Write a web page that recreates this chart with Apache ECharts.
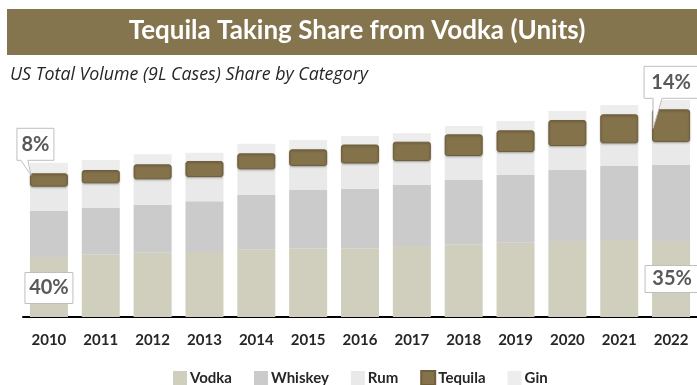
<!DOCTYPE html>
<html>
<head>
<meta charset="utf-8">
<script src="https://cdn.jsdelivr.net/npm/echarts@6/dist/echarts.min.js"></script>
<style>
html,body{margin:0;padding:0;background:#fff;}
#chart{width:697px;height:385px;}
</style>
</head>
<body>
<div id="chart"></div>
<script>
// Data (approx. million 9L cases)
const years = ['2010','2011','2012','2013','2014','2015','2016','2017','2018','2019','2020','2021','2022'];
const vodka   = [60.0, 62.7, 64.3, 65.0, 67.7, 68.7, 68.7, 71.0, 72.7, 74.3, 76.0, 77.0, 76.0];
const whiskey = [46.0, 46.6, 47.7, 50.7, 54.3, 58.3, 59.6, 61.0, 64.3, 67.7, 71.0, 74.0, 76.0];
const rum     = [24.3, 24.4, 25.7, 24.3, 25.7, 24.0, 25.2, 24.0, 24.0, 23.0, 24.0, 22.7, 23.0];
const tequila = [13.4, 13.3, 15.0, 16.0, 16.0, 16.7, 19.0, 19.3, 21.7, 21.7, 26.0, 29.0, 32.7];
const gin     = [10.6, 10.0, 10.0,  8.3,  9.6,  9.3,  8.5,  8.4,  8.3,  9.3,  9.0,  9.3,  9.3];
const seriesNames = ['Vodka','Whiskey','Rum','Tequila','Gin'];
const shareLabels = ['8%', '40%', '14%', '35%'];

const titleText = 'Tequila Taking Share from Vodka (Units)';
const subtitleText = 'US Total Volume (9L Cases) Share by Category';

const colors = {Vodka:'#D0CFBD', Whiskey:'#CBCBCB', Rum:'#E9E9E9', Tequila:'#84724B', Gin:'#EDEDED'};
const dataBySeries = {Vodka:vodka, Whiskey:whiskey, Rum:rum, Tequila:tequila, Gin:gin};

const chart = echarts.init(document.getElementById('chart'), null, {renderer:'canvas'});

const series = seriesNames.map(name => {
  const s = {
    name: name,
    type: 'bar',
    stack: 'total',
    data: dataBySeries[name],
    barWidth: 38,
    itemStyle: {color: colors[name]},
    emphasis: {disabled: true},
    animation: false
  };
  if (name === 'Tequila') {
    s.itemStyle = {color: colors[name], borderColor: '#6F5F3B', borderWidth: 1, borderRadius: 2,
                   shadowColor: 'rgba(0,0,0,0.25)', shadowBlur: 2, shadowOffsetY: 1};
    s.z = 3;
  }
  return s;
});

const option = {
  animation: false,
  title: [{
    text: titleText,
    left: 352, top: 13, textAlign: 'center',
    textStyle: {color:'#FFFFFF', fontFamily:'Lato', fontWeight:'bold', fontSize:26}
  },{
    text: subtitleText,
    left: 5, top: 61,
    textStyle: {color:'#262626', fontFamily:'Open Sans', fontStyle:'italic', fontWeight:'normal', fontSize:17.8}
  }],
  grid: {left: 23, right: -2, top: 77, bottom: 68, containLabel: false},
  legend: {
    data: seriesNames,
    left: 168, top: 365,
    itemWidth: 14, itemHeight: 14, itemGap: 22,
    icon: 'rect',
    textStyle: {color:'#262626', fontFamily:'Lato', fontWeight:'bold', fontSize:15, padding:[0,0,0,-2]},
    selectedMode: false
  },
  xAxis: {
    type: 'category',
    data: years,
    axisLine: {lineStyle:{color:'#000000', width:2}},
    axisTick: {show:false},
    axisLabel: {color:'#262626', fontFamily:'Lato', fontWeight:'bold', fontSize:15, margin:16}
  },
  yAxis: {
    type: 'value', min: 0, max: 240,
    show: false, splitLine: {show:false}
  },
  graphic: [{
    type: 'rect', z: -10,
    shape: {x: 7, y: 9, width: 690, height: 46},
    style: {fill: '#85754F'}
  }],
  series: series
};
chart.setOption(option);

// Callouts placed relative to the bars using the chart's own scales
function stackTop(idx, upto) {
  let s = 0;
  for (let k = 0; k <= upto; k++) s += dataBySeries[seriesNames[k]][idx];
  return s;
}
const calloutSpecs = [
  {idx: 0,  text: shareLabels[0], kind: 'pointer', dx: -32, w: 37, boxBottomAbove: 13, tipDx: -18, tipDy: 2, baseL: -28, baseR: -21},
  {idx: 0,  text: shareLabels[1], kind: 'box', dx: -24, w: 48, yVal: 29, h: 31},
  {idx: 12, text: shareLabels[2], kind: 'pointer', dx: -27, w: 54, boxBottomAbove: 11, tipDx: -18, tipDy: 19, baseL: -18, baseR: -9},
  {idx: 12, text: shareLabels[3], kind: 'box', dx: -26, w: 54, yVal: 38, h: 27}
];
const g = [option.graphic[0]];
calloutSpecs.forEach(c => {
  const cx = chart.convertToPixel({xAxisIndex:0}, years[c.idx]);
  if (c.kind === 'pointer') {
    const topY = chart.convertToPixel({yAxisIndex:0}, stackTop(c.idx, 3));
    const bottom = topY - c.boxBottomAbove;
    const top = bottom - 32;
    const left = cx + c.dx, right = left + c.w;
    const pts = [[left, top],[right, top],[right, bottom],[cx + c.baseR, bottom],[cx + c.tipDx, topY + c.tipDy],[cx + c.baseL, bottom],[left, bottom]];
    g.push({type:'polygon', z: 50, shape:{points: pts}, style:{fill:'#FFFFFF', stroke:'#BFBFBF', lineWidth:1}});
    g.push({type:'text', z: 51, x: (left+right)/2, y: (top+bottom)/2,
      style:{text:c.text, fill:'#595959', fontFamily:'Lato', fontWeight:'bold', fontSize:20, align:'center', verticalAlign:'middle'}});
  } else {
    const midY = chart.convertToPixel({yAxisIndex:0}, c.yVal);
    const left = cx + c.dx;
    g.push({type:'rect', z: 50, shape:{x:left, y:midY - c.h/2, width:c.w, height:c.h}, style:{fill:'#FFFFFF', stroke:'#BFBFBF', lineWidth:1}});
    g.push({type:'text', z: 51, x: left + c.w/2, y: midY,
      style:{text:c.text, fill:'#595959', fontFamily:'Lato', fontWeight:'bold', fontSize:20, align:'center', verticalAlign:'middle'}});
  }
});
chart.setOption({graphic: g}, {replaceMerge: ['graphic']});
</script>
</body>
</html>
